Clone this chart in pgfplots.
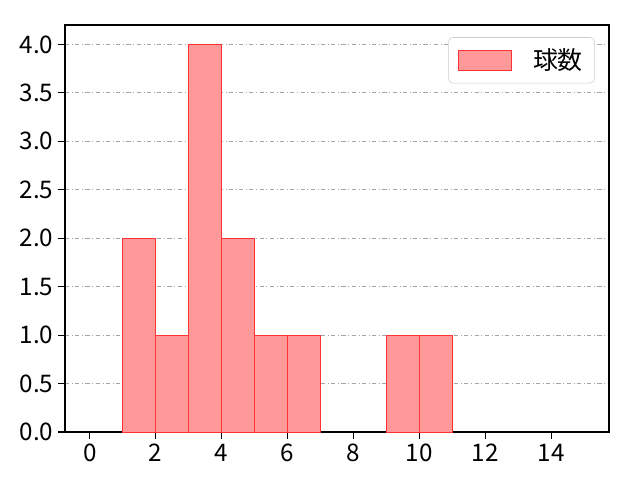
\documentclass[border=0pt]{standalone}
\usepackage{pgfplots}
\pgfplotsset{compat=1.18}
\usepackage{fontspec}
\setmainfont{Noto Sans CJK JP}
\begin{document}
\begin{tikzpicture}
\begin{axis}[
  at={(0,0)}, anchor=south west,
  scale only axis, width=5.44in, height=4.07in,
  xmin=-0.75, xmax=15.75, ymin=0, ymax=4.2,
  xtick={0,2,...,14}, ytick={0,0.5,...,4.0},
  yticklabel style={/pgf/number format/.cd, fixed, fixed zerofill, precision=1},
  /pgf/number format/assume math mode=true,
  tick label style={font=\fontsize{17.5}{20}\selectfont},
  ymajorgrids, grid style={gray!70, dash dot, line width=0.6pt},
  axis line style={line width=0.8pt},
  tick style={black, line width=0.8pt},
  tick align=outside, xtick pos=bottom, ytick pos=left,
  major tick length=5pt,
  legend style={at={(0.974,0.97)}, anchor=north east, draw=gray!40, rounded corners=3pt,
    font=\fontsize{18}{21}\selectfont, inner xsep=0.09in, inner ysep=0.085in},
  legend image code/.code={\draw[#1, sharp corners] (0in,-0.1in) rectangle (0.53in,0.1in);},
]
\addplot[ybar interval, fill=red!40, draw=red!80] coordinates {
(1,2) (2,1) (3,4) (4,2) (5,1) (6,1) (7,0)
};
\addlegendentry{\hspace{0.19in}球数}
\addplot[ybar interval, fill=red!40, draw=red!80, forget plot] coordinates {
(9,1) (10,1) (11,0)
};
\end{axis}
\useasboundingbox (-0.65in,-0.48in) rectangle (5.75in,4.32in);
\end{tikzpicture}
\end{document}
